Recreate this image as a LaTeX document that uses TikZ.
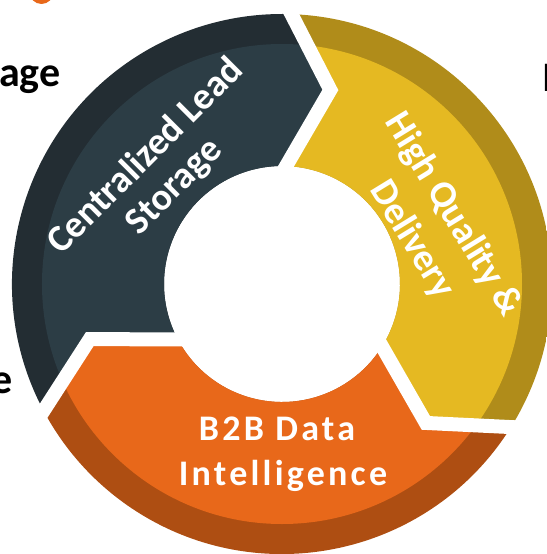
\documentclass[tikz,border=0pt]{standalone}
\usepackage{fontspec}
\setmainfont{Carlito}
\newfontfamily\spacedfont[LetterSpace=9]{Carlito}
\usetikzlibrary{calc}
\definecolor{slateL}{HTML}{2C3D45}
\definecolor{slateD}{HTML}{232D33}
\definecolor{yelL}{HTML}{E5B922}
\definecolor{yelD}{HTML}{B08C1A}
\definecolor{oraL}{HTML}{E8681A}
\definecolor{oraD}{HTML}{AE4E12}
\tikzset{
  lbl/.style={text=white, inner sep=0pt, font=\fontsize{38}{45}\selectfont\bfseries},
  blbl/.style={text=white, inner sep=0pt, font=\fontsize{36}{45}\selectfont\spacedfont\bfseries},
  edge/.style={text=black, inner sep=0pt, font=\fontsize{42}{50}\selectfont\bfseries},
  gap/.style={white, line width=14pt, line join=miter}
}
\begin{document}
\begin{tikzpicture}[x=1pt,y=1pt]
\useasboundingbox (-282,-270) rectangle (264,284);
% ring segments
\foreach \s/\dk/\lt in {208/slateD/slateL, 88/yelD/yelL, -32/oraD/oraL}{
  \begin{scope}
    \clip ({\s}:270) arc[start angle=\s, end angle=\s-120, radius=270]
      -- ({\s-132}:200) -- ({\s-120}:118)
      arc[start angle=\s-120, end angle=\s, radius=118]
      -- ({\s-12}:200) -- cycle;
    \fill[\dk] (0,0) circle (272);
    \fill[\lt] (0,0) circle (240);
  \end{scope}
}
% white gaps between the arrows
\foreach \b in {88,-32,208}{
  \draw[gap] ($({\b-12}:200)!1.3!({\b}:270)$) -- ({\b-12}:200) -- ($({\b-12}:200)!1.5!({\b}:118)$);
}
% labels
\node[lbl, rotate=45] (cls1) at (-138,129.5) {Centralized Lead};
\node[lbl, rotate=45] (cls2) at (-107,96.5) {Storage};
\node[lbl, rotate=-58.5] (hqd1) at (171,69) {High Quality \&};
\node[lbl, rotate=-58.5] (hqd2) at (130,44) {Delivery};
\node[blbl, anchor=base] (b2b1) at (-5,-156) {B2B Data};
\node[blbl, anchor=base] (b2b2) at (1,-201) {Intelligence};
% partial texts and shape at the edges
\fill[oraL] (-240.5,292) circle (12);
\node[edge, anchor=base west] (eage) at (-283,197) {age};
\node[edge, anchor=base east] (ee) at (-269.5,-109) {e};
\node[edge, anchor=base west] (eI) at (260,192) {I};
\end{tikzpicture}
\end{document}
